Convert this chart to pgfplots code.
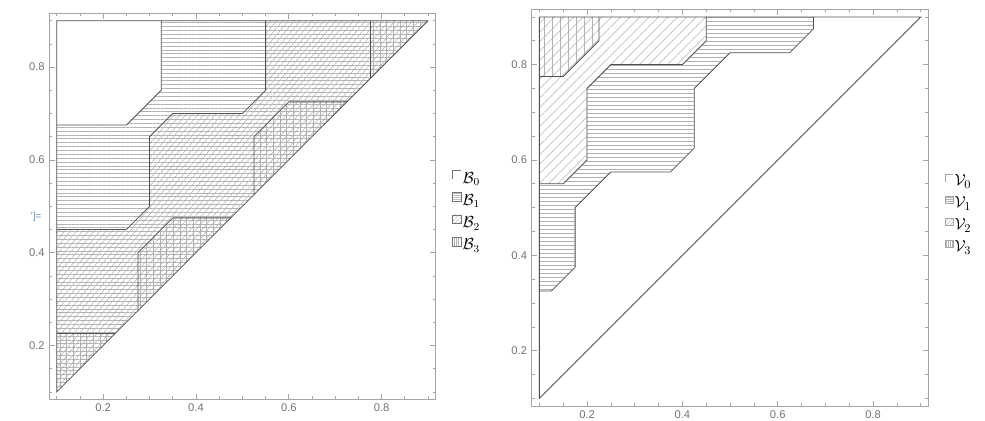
\documentclass[border=0pt]{standalone}
\usepackage{fontspec}
\setmainfont{Liberation Sans}
\usepackage{pgfplots}
\pgfplotsset{compat=1.18}
\usetikzlibrary{patterns.meta}
\definecolor{framec}{RGB}{165,165,165}
\definecolor{tickc}{RGB}{115,115,115}
\definecolor{edgec}{RGB}{80,80,80}
\definecolor{hatchc}{RGB}{178,178,178}
\definecolor{outc}{RGB}{95,145,195}
\pgfplotsset{
  regax/.style={scale only axis, anchor=south west,
    xmin=0.084, xmax=0.916, ymin=0.084, ymax=0.916,
    xtick={0.2,0.4,0.6,0.8}, ytick={0.2,0.4,0.6,0.8},
    minor xtick={0.1,0.15,0.25,0.3,0.35,0.45,0.5,0.55,0.65,0.7,0.75,0.85,0.9},
    minor ytick={0.1,0.15,0.25,0.3,0.35,0.45,0.5,0.55,0.65,0.7,0.75,0.85,0.9},
    tick align=inside, xtick pos=both, ytick pos=both,
    major tick length=4pt, minor tick length=2.2pt,
    axis line style={framec, line width=0.6pt},
    every tick/.style={framec, line width=0.5pt},
    tick label style={font=\fontsize{8.4}{10}\selectfont, text=tickc},
    /pgf/number format/assume math mode=true,
    /pgf/number format/fixed, /pgf/number format/precision=1,
    legend cell align=left,
    legend style={anchor=north west, draw=none, fill=none, inner sep=0pt,
      row sep=3.5pt, font=\fontsize{12}{14}\selectfont,
      nodes={inner sep=1pt, text height=8.5pt, text depth=2.5pt},
      /tikz/every even column/.append style={column sep=3pt}},
  },
  edge/.style={draw=edgec, line width=0.6pt, mark=none, forget plot},
  hatch/.style n args={2}{draw=none, mark=none, forget plot,
    pattern={Lines[angle=#1, distance=#2, line width=0.4pt]}, pattern color=hatchc},
}
\begin{document}
\begin{tikzpicture}
\useasboundingbox (0,0) rectangle (738.75pt,315.75pt);
% ---------------- left panel ----------------
\begin{axis}[regax, name=L, at={(37pt,16.3pt)}, width=289.6pt, height=289.5pt,
  legend style={at={(1.043,0.594)}}]
\addplot[hatch={0}{2.9pt}] coordinates {(0.1,0.1)(0.9,0.9)(0.325,0.9)(0.325,0.75)(0.25,0.675)(0.1,0.675)} -- cycle;
\addplot[hatch={50}{3.4pt}] coordinates {(0.1,0.1)(0.9,0.9)(0.55,0.9)(0.55,0.75)(0.5,0.7)(0.35,0.7)(0.3,0.65)(0.3,0.5)(0.25,0.45)(0.1,0.45)} -- cycle;
\addplot[hatch={90}{5pt}] coordinates {(0.1,0.1)(0.1,0.225)(0.225,0.225)} -- cycle;
\addplot[hatch={90}{5pt}] coordinates {(0.275,0.275)(0.275,0.4)(0.35,0.475)(0.475,0.475)} -- cycle;
\addplot[hatch={90}{5pt}] coordinates {(0.525,0.525)(0.525,0.65)(0.6,0.725)(0.725,0.725)} -- cycle;
\addplot[hatch={90}{5pt}] coordinates {(0.775,0.775)(0.775,0.9)(0.9,0.9)} -- cycle;
\addplot[edge] coordinates {(0.1,0.1)(0.1,0.9)(0.9,0.9)} -- cycle;
\addplot[edge] coordinates {(0.1,0.675)(0.25,0.675)(0.325,0.75)(0.325,0.9)};
\addplot[edge] coordinates {(0.1,0.45)(0.25,0.45)(0.3,0.5)(0.3,0.65)(0.35,0.7)(0.5,0.7)(0.55,0.75)(0.55,0.9)};
\addplot[edge] coordinates {(0.1,0.225)(0.225,0.225)};
\addplot[edge] coordinates {(0.275,0.275)(0.275,0.4)(0.35,0.475)(0.475,0.475)};
\addplot[edge] coordinates {(0.525,0.525)(0.525,0.65)(0.6,0.725)(0.725,0.725)};
\addplot[edge] coordinates {(0.775,0.775)(0.775,0.9)};
\addlegendimage{legend image code/.code={\draw[tickc, line width=0.5pt] (0pt,0pt) -- (0pt,6.5pt) -- (6.5pt,6.5pt);}}
\addlegendentry{$\mathcal{B}_0$}
\addlegendimage{legend image code/.code={\draw[tickc, line width=0.5pt, pattern={Lines[angle=0,distance=1.6pt,line width=0.3pt]}, pattern color=hatchc] (0pt,0pt) rectangle (6.5pt,6.5pt);}}
\addlegendentry{$\mathcal{B}_1$}
\addlegendimage{legend image code/.code={\draw[tickc, line width=0.5pt, pattern={Lines[angle=45,distance=2.2pt,line width=0.3pt]}, pattern color=hatchc] (0pt,0pt) rectangle (6.5pt,6.5pt);}}
\addlegendentry{$\mathcal{B}_2$}
\addlegendimage{legend image code/.code={\draw[tickc, line width=0.5pt, pattern={Lines[angle=90,distance=1.6pt,line width=0.3pt]}, pattern color=hatchc] (0pt,0pt) rectangle (6.5pt,6.5pt);}}
\addlegendentry{$\mathcal{B}_3$}
\end{axis}
\node[text=outc, font=\fontsize{7.5}{8}\selectfont] at ([xshift=-10pt,yshift=-8pt]L.west) {']=};
% ---------------- right panel ----------------
\begin{axis}[regax, at={(398.8pt,11.25pt)}, width=297.5pt, height=297.5pt,
  legend style={at={(1.042,0.588)}, font=\fontsize{13}{15}\selectfont}]
\addplot[hatch={0}{3pt}] coordinates {(0.1,0.325)(0.125,0.325)(0.175,0.375)(0.175,0.5)(0.25,0.575)(0.375,0.575)(0.425,0.625)(0.425,0.75)(0.5,0.825)(0.625,0.825)(0.675,0.875)(0.675,0.9)(0.45,0.9)(0.45,0.85)(0.4,0.8)(0.25,0.8)(0.2,0.75)(0.2,0.6)(0.15,0.55)(0.1,0.55)} -- cycle;
\addplot[hatch={45}{5pt}] coordinates {(0.1,0.55)(0.15,0.55)(0.2,0.6)(0.2,0.75)(0.25,0.8)(0.4,0.8)(0.45,0.85)(0.45,0.9)(0.1,0.9)} -- cycle;
\addplot[hatch={90}{6pt}] coordinates {(0.1,0.775)(0.15,0.775)(0.225,0.85)(0.225,0.9)(0.1,0.9)} -- cycle;
\addplot[edge] coordinates {(0.1,0.1)(0.1,0.9)(0.9,0.9)} -- cycle;
\addplot[edge] coordinates {(0.1,0.325)(0.125,0.325)(0.175,0.375)(0.175,0.5)(0.25,0.575)(0.375,0.575)(0.425,0.625)(0.425,0.75)(0.5,0.825)(0.625,0.825)(0.675,0.875)(0.675,0.9)};
\addplot[edge] coordinates {(0.1,0.55)(0.15,0.55)(0.2,0.6)(0.2,0.75)(0.25,0.8)(0.4,0.8)(0.45,0.85)(0.45,0.9)};
\addplot[edge] coordinates {(0.1,0.775)(0.15,0.775)(0.225,0.85)(0.225,0.9)};
\addlegendimage{legend image code/.code={\draw[framec, line width=0.5pt] (0pt,0pt) -- (0pt,5.5pt) -- (5.5pt,5.5pt);}}
\addlegendentry{$\mathcal{V}_0$}
\addlegendimage{legend image code/.code={\draw[framec, line width=0.5pt, pattern={Lines[angle=0,distance=1.5pt,line width=0.3pt]}, pattern color=hatchc] (0pt,0pt) rectangle (5.5pt,5.5pt);}}
\addlegendentry{$\mathcal{V}_1$}
\addlegendimage{legend image code/.code={\draw[framec, line width=0.5pt, pattern={Lines[angle=45,distance=2pt,line width=0.3pt]}, pattern color=hatchc] (0pt,0pt) rectangle (5.5pt,5.5pt);}}
\addlegendentry{$\mathcal{V}_2$}
\addlegendimage{legend image code/.code={\draw[framec, line width=0.5pt, pattern={Lines[angle=90,distance=1.5pt,line width=0.3pt]}, pattern color=hatchc] (0pt,0pt) rectangle (5.5pt,5.5pt);}}
\addlegendentry{$\mathcal{V}_3$}
\end{axis}
\end{tikzpicture}
\end{document}
